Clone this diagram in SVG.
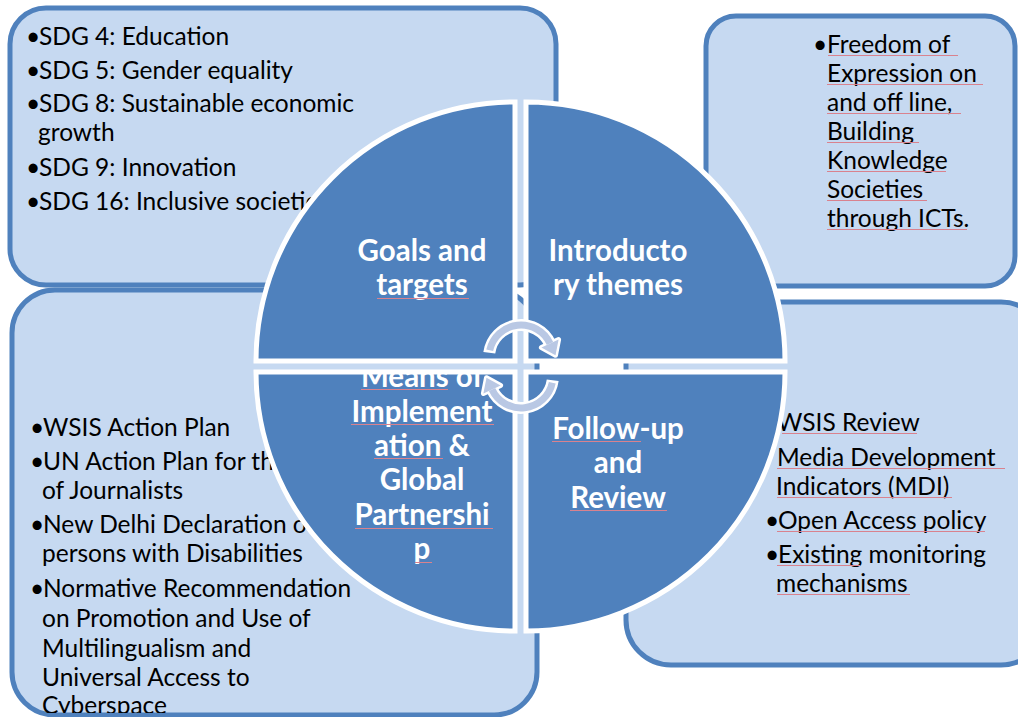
<svg xmlns="http://www.w3.org/2000/svg" width="1018" height="717" viewBox="0 0 1018 717">
<style>
.box{fill:#C6D9F1;stroke:#4F81BD;stroke-width:5}
.q{fill:#4F81BD;stroke:#FFFFFF;stroke-width:5;stroke-linejoin:miter}
.t{font-family:Lato,"Liberation Sans",sans-serif;font-size:24.5px;fill:#000000}
.w{font-family:Lato,"Liberation Sans",sans-serif;font-size:29.5px;font-weight:bold;fill:#FFFFFF;text-anchor:middle}
.sp{stroke:#D9828E;stroke-width:1.2;fill:none}
.aw{fill:none;stroke:#FFFFFF;stroke-width:12}
.ac{fill:none;stroke:#B9C8E4;stroke-width:7}
.hw{fill:#FFFFFF;stroke:#FFFFFF;stroke-width:5;stroke-linejoin:round}
.hc{fill:#B9C8E4}
</style>
<defs>
<clipPath id="blclip"><rect x="250" y="374" width="270" height="270"/></clipPath>
<clipPath id="bottomclip"><rect x="0" y="0" width="1018" height="713"/></clipPath>
</defs>

<g id="box-goals">
<rect class="box" x="10" y="8" width="546" height="277" rx="36" ry="36"/>
<text class="t" x="26" y="45">•<tspan x="39">SDG 4: Education</tspan></text>
<text class="t" x="26" y="79">•<tspan x="39">SDG 5: Gender equality</tspan></text>
<text class="t" x="26" y="112">•<tspan x="39">SDG 8: Sustainable economic</tspan></text>
<text class="t" x="38" y="141">growth</text>
<text class="t" x="26" y="176">•<tspan x="39">SDG 9: Innovation</tspan></text>
<text class="t" x="26" y="210">•<tspan x="39">SDG 16: Inclusive societie</tspan></text>
</g>

<g id="box-themes">
<rect class="box" x="706" y="16" width="309" height="270" rx="30" ry="30"/>
<text class="t" x="813" y="53">•<tspan x="827">Freedom of</tspan></text>
<text class="t" x="827" y="82">Expression on</text>
<text class="t" x="827" y="111">and off line,</text>
<text class="t" x="827" y="140">Building</text>
<text class="t" x="827" y="169">Knowledge</text>
<text class="t" x="827" y="198">Societies</text>
<text class="t" x="827" y="227">through ICTs.</text>
<path class="sp" d="M828,55.5H958 M827,84.5H983 M827,113.5H961 M827,142.5H919 M827,171.5H946 M827,200.5H927 M827,229.5H967"/>
</g>

<g id="box-means">
<rect class="box" x="12" y="290" width="525" height="425" rx="43" ry="43"/>
<g clip-path="url(#bottomclip)">
<text class="t" x="30" y="436">•<tspan x="43">WSIS Action Plan</tspan></text>
<text class="t" x="30" y="470">•<tspan x="43">UN Action Plan for th</tspan></text>
<text class="t" x="42" y="499">of Journalists</text>
<text class="t" x="30" y="533">•<tspan x="43">New Delhi Declaration o</tspan></text>
<text class="t" x="42" y="562">persons with Disabilities</text>
<text class="t" x="30" y="597">•<tspan x="43">Normative Recommendation</tspan></text>
<text class="t" x="42" y="627">on Promotion and Use of</text>
<text class="t" x="42" y="657">Multilingualism and</text>
<text class="t" x="42" y="686">Universal Access to</text>
<text class="t" x="42" y="714">Cyberspace</text>
</g>
</g>

<g id="box-review">
<rect class="box" x="626" y="302" width="420" height="363" rx="45" ry="45"/>
<text class="t" x="777" y="431">WSIS Review</text>
<text class="t" x="777" y="466">Media Development</text>
<text class="t" x="776" y="495">Indicators (MDI)</text>
<text class="t" x="765" y="529">•<tspan x="778">Open Access policy</tspan></text>
<text class="t" x="765" y="563">•<tspan x="778">Existing monitoring</tspan></text>
<text class="t" x="776" y="592">mechanisms</text>
<path class="sp" d="M782,433.5H917 M777,468.5H1005 M777,497.5H952 M777,531.5H985 M777,565.5H860 M777,594.5H910"/>
</g>

<g id="q-goals">
<path class="q" d="M515,361 L256,361 A259,259 0 0 1 515,102 Z"/>
<text class="w" x="422" y="261">Goals and</text>
<text class="w" x="422" y="295">targets</text>
<path class="sp" d="M377,298.5H469"/>
</g>

<g id="q-themes">
<path class="q" d="M526,361 L526,102 A259,259 0 0 1 785,361 Z"/>
<text class="w" x="618" y="261">Introducto</text>
<text class="w" x="618" y="295">ry themes</text>
</g>

<g id="q-review">
<path class="q" d="M526,372 L785,372 A259,259 0 0 1 526,631 Z"/>
<text class="w" x="618" y="439">Follow-up</text>
<text class="w" x="618" y="473">and</text>
<text class="w" x="618" y="508">Review</text>
<path class="sp" d="M552,441.5H641 M570,510.5H667"/>
</g>

<g id="q-means">
<path class="q" d="M515,372 L515,631 A259,259 0 0 1 256,372 Z"/>
<g clip-path="url(#blclip)">
<text class="w" x="422" y="387">Means of</text>
</g>
<text class="w" x="422" y="422">Implement</text>
<text class="w" x="422" y="456">ation &amp;</text>
<text class="w" x="422" y="490">Global</text>
<text class="w" x="422" y="525">Partnershi</text>
<text class="w" x="422" y="559">p</text>
<path class="sp" d="M361,389.5H448 M351,424.5H494 M374,458.5H443 M355,528.5H493 M415,562.5H432"/>
</g>

<g id="connectors">
<path class="aw" d="M489.3,352.8 A32,32 0 0 1 550.0,343.5"/>
<polygon class="hw" points="558.6,339.5 555.5,355.3 541.4,347.5"/>
<path class="aw" d="M552.7,380.2 A32,32 0 0 1 492.0,389.5"/>
<polygon class="hw" points="483.4,393.5 486.5,377.7 500.6,385.5"/>
<path class="ac" d="M489.7,350.3 A32,32 0 0 1 550.0,343.5"/>
<polygon class="hc" points="558.6,339.5 555.5,355.3 541.4,347.5"/>
<path class="ac" d="M552.3,382.7 A32,32 0 0 1 492.0,389.5"/>
<polygon class="hc" points="483.4,393.5 486.5,377.7 500.6,385.5"/>
</g>
</svg>
